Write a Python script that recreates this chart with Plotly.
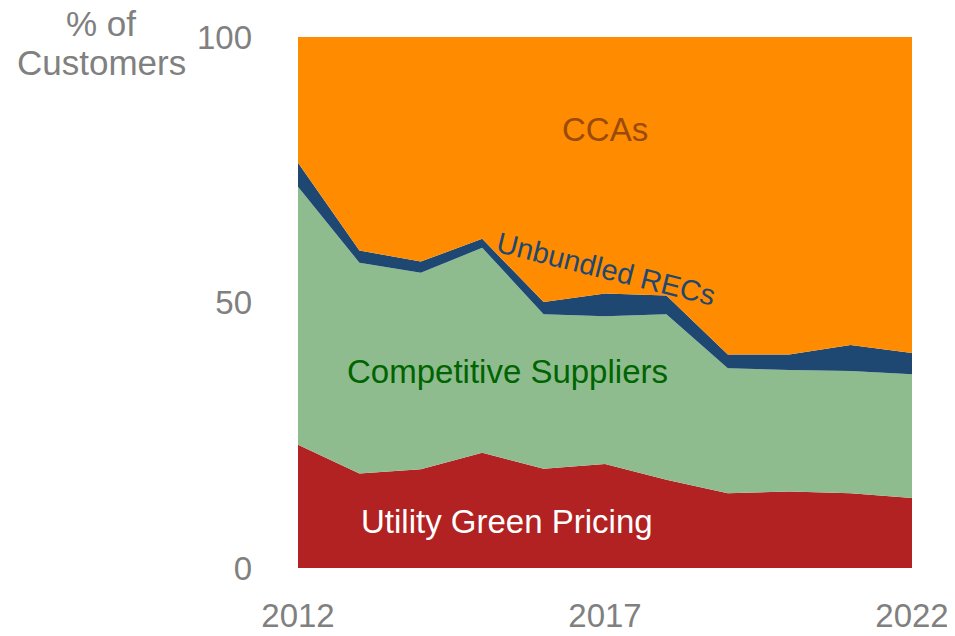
import plotly.graph_objects as go

years = [2012, 2013, 2014, 2015, 2016, 2017, 2018, 2019, 2020, 2021, 2022]
utility_green_pricing = [23.2, 17.8, 18.6, 21.7, 18.7, 19.6, 16.6, 14.1, 14.4, 14.1, 13.2]
competitive_suppliers = [48.6, 39.7, 37.0, 38.6, 29.1, 27.8, 31.2, 23.5, 22.9, 23.0, 23.3]
unbundled_recs = [4.5, 2.3, 2.1, 1.7, 2.3, 4.3, 3.5, 2.6, 2.9, 4.9, 4.0]
ccas = [23.7, 40.2, 42.3, 38.0, 49.9, 48.3, 48.7, 59.8, 59.8, 58.0, 59.5]

series = [
    ("Utility Green Pricing", utility_green_pricing, "#B22222"),
    ("Competitive Suppliers", competitive_suppliers, "#8FBC8F"),
    ("Unbundled RECs", unbundled_recs, "#1E4871"),
    ("CCAs", ccas, "#FF8C00"),
]

FONT = "Liberation Sans, Arial, Helvetica, sans-serif"
GRAY = "#808080"

fig = go.Figure()
for name, vals, color in series:
    fig.add_trace(go.Scatter(
        x=years, y=vals, name=name, mode="lines",
        stackgroup="one", line=dict(width=0, color=color),
        fillcolor=color, hoverinfo="x+y+name",
    ))

# page body has an 8px margin, so the figure is offset by 8px
fig.update_layout(
    width=947, height=628,
    margin=dict(l=290, r=43, t=29, b=68),
    paper_bgcolor="white", plot_bgcolor="white",
    showlegend=False,
    font=dict(family=FONT, color=GRAY),
    xaxis=dict(
        range=[2012, 2022], tickvals=[2012, 2017, 2022],
        ticktext=["2012", "2017", "2022"],
        showgrid=False, zeroline=False, showline=False, ticks="",
        tickfont=dict(size=33, color=GRAY, family=FONT),
        ticklabelstandoff=25, automargin=False,
    ),
    yaxis=dict(
        range=[0, 100], tickvals=[0, 50, 100],
        showgrid=False, zeroline=False, showline=False, ticks="",
        tickfont=dict(size=33, color=GRAY, family=FONT),
        ticklabelstandoff=45, automargin=False,
    ),
    annotations=[
        dict(text="% of", xref="paper", yref="paper",
             x=-0.3208, y=1.0245, xanchor="center", yanchor="middle",
             showarrow=False, font=dict(size=35, color=GRAY, family=FONT)),
        dict(text="Customers", xref="paper", yref="paper",
             x=-0.3208, y=0.9529, xanchor="center", yanchor="middle",
             showarrow=False, font=dict(size=35, color=GRAY, family=FONT)),
        dict(text="CCAs", xref="x", yref="y", x=2017, y=82.5,
             showarrow=False, font=dict(size=33, color="#9A4A0C", family=FONT)),
        dict(text="Unbundled RECs", xref="x", yref="y", x=2017.02, y=56.3,
             textangle=14, showarrow=False,
             font=dict(size=29, color="#1E4871", family=FONT)),
        dict(text="Competitive Suppliers", xref="x", yref="y", x=2015.41, y=37.0,
             showarrow=False, font=dict(size=33, color="#006400", family=FONT)),
        dict(text="Utility Green Pricing", xref="x", yref="y", x=2015.41, y=8.8,
             showarrow=False, font=dict(size=33, color="white", family=FONT)),
    ],
)

fig.write_html("out.html")
